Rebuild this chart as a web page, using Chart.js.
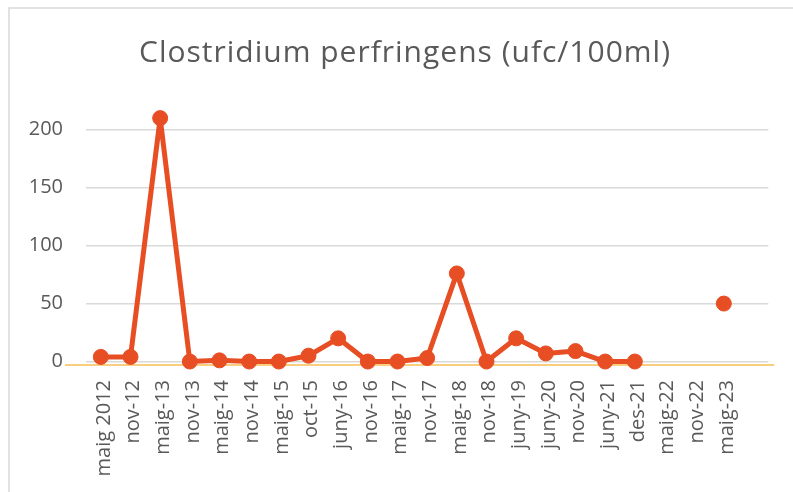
<!DOCTYPE html>
<html>
<head>
<meta charset="utf-8">
<script src="https://cdn.jsdelivr.net/npm/chart.js@4.4.0/dist/chart.umd.min.js"></script>
<style>
  html, body { margin: 0; padding: 0; background: #ffffff; }
  #wrap { width: 793px; height: 492px; position: relative; }
</style>
</head>
<body>
<div id="wrap"><canvas id="c" width="793" height="492"></canvas></div>
<script>
// ---- data ----
const categories = ["maig 2012","nov-12","maig-13","nov-13","maig-14","nov-14","maig-15","oct-15","juny-16","nov-16","maig-17","nov-17","maig-18","nov-18","juny-19","juny-20","nov-20","juny-21","des-21","maig-22","nov-22","maig-23",""];
const values = [4, 4, 210, 0, 1, 0, 0, 5, 20, 0, 0, 3, 76, 0, 20, 7, 9, 0, 0, null, null, 50, null];
const yTicks = [0, 50, 100, 150, 200];
const titleText = "Clostridium perfringens (ufc/100ml)";

const lineColor = "#E84E24";
const textColor = "#595959";
const gridColor = "#d9d9d9";
const axisLineColor = "#F9BE55";

const framePlugin = {
  id: 'frame',
  beforeDraw(chart) {
    const ctx = chart.ctx;
    ctx.save();
    ctx.fillStyle = '#ffffff';
    ctx.fillRect(0, 0, chart.width, chart.height);
    ctx.strokeStyle = '#d9d9d9';
    ctx.lineWidth = 1.5;
    ctx.beginPath();
    ctx.moveTo(9, chart.height + 5);
    ctx.lineTo(9, 8);
    ctx.lineTo(chart.width + 5, 8);
    ctx.stroke();
    ctx.restore();
  }
};

const titlePlugin = {
  id: 'customTitle',
  afterDraw(chart) {
    const ctx = chart.ctx;
    ctx.save();
    ctx.fillStyle = textColor;
    ctx.font = "30px 'Open Sans'";
    try { ctx.letterSpacing = '1px'; } catch (e) {}
    ctx.textAlign = 'center';
    ctx.textBaseline = 'alphabetic';
    ctx.fillText(titleText, 405, 61.5);
    ctx.restore();
  }
};

const axisLinePlugin = {
  id: 'axisLine',
  beforeDatasetsDraw(chart) {
    const ctx = chart.ctx;
    const a = chart.chartArea;
    ctx.save();
    ctx.strokeStyle = axisLineColor;
    ctx.lineWidth = 1.5;
    ctx.beginPath();
    ctx.moveTo(a.left - 21, a.bottom);
    ctx.lineTo(a.right + 6, a.bottom);
    ctx.stroke();
    ctx.restore();
  }
};

new Chart(document.getElementById('c'), {
  type: 'line',
  data: {
    labels: categories,
    datasets: [{
      data: values,
      borderColor: lineColor,
      backgroundColor: lineColor,
      borderWidth: 5,
      borderJoinStyle: 'round',
      borderCapStyle: 'round',
      pointRadius: 7.5,
      pointHoverRadius: 7.5,
      pointBorderWidth: 1,
      pointBackgroundColor: lineColor,
      pointBorderColor: lineColor,
      tension: 0,
      spanGaps: false,
      clip: false
    }]
  },
  options: {
    responsive: false,
    animation: false,
    devicePixelRatio: 1,
    layout: { padding: { left: 0, right: 23, top: 110, bottom: 0 } },
    plugins: {
      legend: { display: false },
      tooltip: { enabled: false },
      title: { display: false }
    },
    scales: {
      x: {
        offset: true,
        grid: { display: false, drawTicks: false },
        border: { display: false },
        ticks: {
          color: textColor,
          font: { family: "'Open Sans'", size: 20 },
          minRotation: 90,
          maxRotation: 90,
          autoSkip: false,
          labelOffset: 3,
          padding: 15
        },
        afterFit(scale) { scale.height = 127; }
      },
      y: {
        min: -3,
        max: 217,
        grid: { color: gridColor, lineWidth: 1.5, drawTicks: false },
        border: { display: false },
        ticks: {
          color: textColor,
          font: { family: "'Open Sans'", size: 20 },
          padding: 23
        },
        afterBuildTicks(scale) { scale.ticks = yTicks.map(v => ({ value: v })); },
        afterFit(scale) { scale.width = 86; }
      }
    }
  },
  plugins: [framePlugin, axisLinePlugin, titlePlugin]
});
</script>
</body>
</html>
